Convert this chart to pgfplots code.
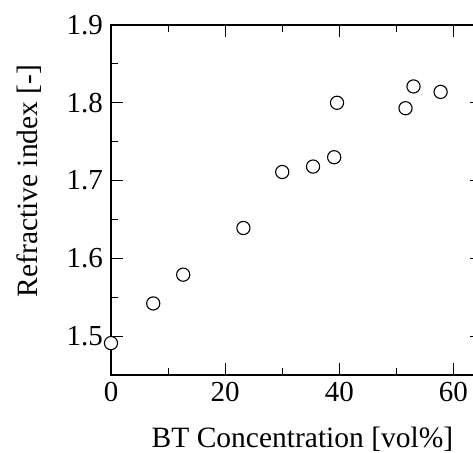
\documentclass[border=0pt]{standalone}
\usepackage{fontspec}
\setmainfont{Liberation Serif}
\usepackage{pgfplots}
\pgfplotsset{compat=1.18}
\begin{document}
\begin{tikzpicture}
\begin{axis}[
  at={(0,0)}, anchor=south west,
  scale only axis, width=371pt, height=350pt,
  xmin=0, xmax=65, ymin=1.45, ymax=1.9,
  xtick={0,20,40,60}, minor xtick={10,30,50},
  ytick={1.5,1.6,1.7,1.8,1.9}, minor ytick={1.55,1.65,1.75,1.85},
  tick align=inside,
  major tick length=12pt, minor tick length=7pt,
  axis line style={line width=1.3pt, black},
  tick style={line width=1.1pt, black},
  /pgf/number format/assume math mode=true,
  tick label style={font=\fontsize{29}{34}\selectfont},
  label style={font=\fontsize{29.5}{34}\selectfont},
  yticklabel style={/pgf/number format/fixed, /pgf/number format/fixed zerofill,
    /pgf/number format/precision=1, inner sep=0pt, xshift=-8pt},
  xticklabel style={inner sep=0pt, yshift=-7pt},
  xlabel={BT Concentration [vol\%]},
  ylabel={Refractive index [-]},
  xlabel style={at={(axis description cs:0.516,-0.206)}, anchor=base},
  ylabel style={at={(axis description cs:-0.198,0.554)}, anchor=base},
  clip=false, set layers=standard,
]
\addplot[only marks, mark=*, mark size=6.6pt,
  mark options={fill=white, draw=black, line width=1.1pt}] coordinates {
  (0,1.491) (7.4,1.542) (12.65,1.579) (23.2,1.639) (30.0,1.711)
  (35.4,1.718) (39.1,1.730) (39.6,1.800) (51.6,1.793) (53.0,1.821)
  (57.75,1.814)
};
\end{axis}
\pgfresetboundingbox
\path (-111pt,-77pt) rectangle (362pt,375pt);
\end{tikzpicture}
\end{document}
